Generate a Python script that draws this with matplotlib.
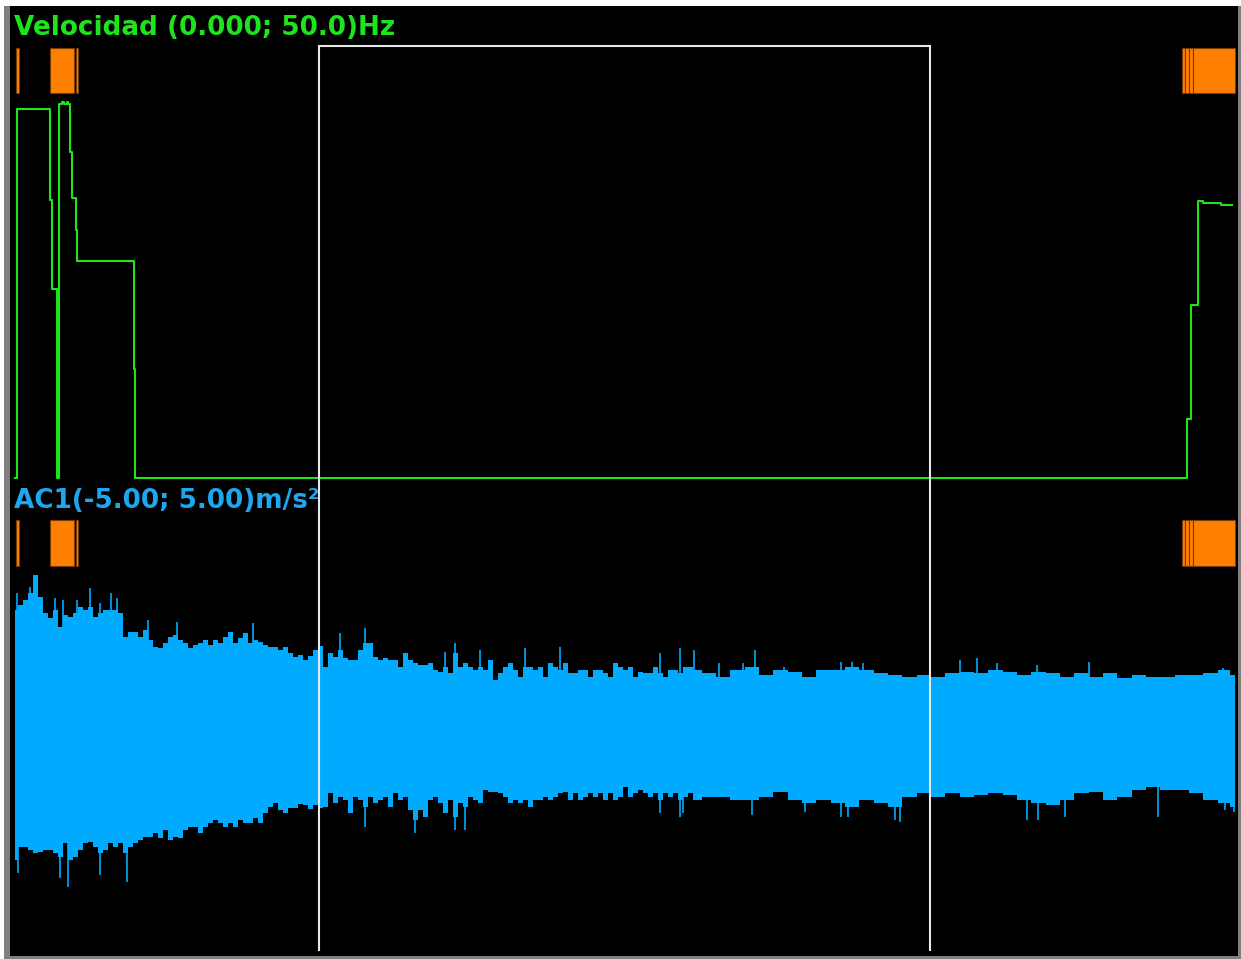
import numpy as np
import matplotlib
matplotlib.use("Agg")
import matplotlib.pyplot as plt
from matplotlib.patches import Rectangle

# ---------------- data ----------------
# Speed reference (Hz), step changes at the given times (s)
vel_t = [0, 1, 17.5, 18.5, 21, 22, 23.5, 24.5, 26, 26.5, 27.5, 28.5, 30.5, 31,
         59.5, 60, 586, 588, 591.5, 594, 603, 608.5]
vel_hz = [0, 48.6, 36.6, 24.9, 0, 49.2, 49.5, 49.2, 49.5, 49.2, 42.9, 36.8, 32.6, 28.6,
          14.3, 0, 7.8, 22.8, 36.4, 36.2, 35.9, 35.9]

# Event spans (s) shown on both channels
events = [(0.5, 2.0), (17.5, 29.5), (30.5, 31.5),
          (583.5, 585), (585, 587), (587, 589), (589, 610)]

# Cursor window (s)
cursor = (152, 457.5)

# AC1 vibration envelope (m/s^2)
t_env_a = np.arange(0, 340.1, 2.5)
t_env_b = [347, 354, 361, 368.5, 375.5, 382.5, 390, 397, 404, 411.5, 418.5, 425.5,
           433, 440, 447, 454.5, 461.5, 468.5, 476, 483, 490, 497.5, 504.5, 511.5,
           519, 526, 533, 540.5, 547.5, 554.5, 562, 569, 576, 583.5, 590.5, 597.5,
           605, 610]

upper_a = [3.00, 3.12, 3.25, 3.42, 3.88, 3.32, 2.92, 2.80, 3.00, 2.58,
           2.88, 2.82, 2.92, 3.08, 3.00, 3.08, 2.82, 2.92, 3.00, 3.00,
           3.00, 2.92, 2.32, 2.45, 2.45, 2.32, 2.50, 2.25, 2.08, 2.05,
           2.18, 2.32, 2.38, 2.25, 2.18, 2.05, 2.12, 2.18, 2.25, 2.12,
           2.25, 2.18, 2.32, 2.45, 2.18, 2.30, 2.42, 2.18, 2.25, 2.20,
           2.12, 2.08, 2.08, 2.00, 2.08, 1.92, 1.82, 1.88, 1.75, 1.85,
           2.00, 2.10, 1.58, 1.92, 1.82, 2.00, 1.80, 1.75, 1.75, 2.00,
           2.18, 2.18, 1.82, 1.75, 1.80, 1.75, 1.75, 1.58, 1.92, 1.75,
           1.68, 1.62, 1.62, 1.68, 1.50, 1.45, 1.58, 1.42, 1.92, 1.58,
           1.68, 1.58, 1.50, 1.58, 1.50, 1.75, 1.25, 1.42, 1.58, 1.68,
           1.50, 1.32, 1.58, 1.58, 1.50, 1.58, 1.32, 1.68, 1.58, 1.50,
           1.68, 1.42, 1.42, 1.50, 1.50, 1.32, 1.50, 1.50, 1.42, 1.32,
           1.68, 1.58, 1.50, 1.58, 1.32, 1.45, 1.42, 1.42, 1.58, 1.42,
           1.32, 1.50, 1.50, 1.42, 1.58, 1.58, 1.50]
lower_a = [-3.25, -2.92, -2.92, -3.00, -3.08, -3.05, -3.00, -3.00, -3.08, -3.18,
           -2.82, -3.25, -3.18, -3.00, -2.82, -2.80, -2.92, -3.08, -3.00, -2.82,
           -2.92, -2.82, -3.08, -2.92, -2.82, -2.75, -2.68, -2.68, -2.58, -2.70,
           -2.50, -2.75, -2.68, -2.70, -2.50, -2.42, -2.42, -2.58, -2.42, -2.32,
           -2.25, -2.32, -2.42, -2.32, -2.42, -2.25, -2.32, -2.32, -2.20, -2.32,
           -2.08, -1.92, -1.82, -2.00, -2.08, -1.95, -1.95, -1.85, -1.88, -1.98,
           -1.88, -1.95, -1.92, -1.58, -1.82, -1.68, -1.75, -2.08, -1.68, -1.75,
           -1.92, -1.68, -1.82, -1.75, -1.68, -1.92, -1.58, -1.75, -1.68, -2.00,
           -2.25, -2.00, -2.18, -1.75, -1.68, -1.82, -2.08, -1.75, -2.18, -1.82,
           -1.92, -1.68, -1.75, -1.82, -1.50, -1.55, -1.55, -1.58, -1.68, -1.82,
           -1.75, -1.82, -1.75, -1.92, -1.75, -1.75, -1.68, -1.75, -1.68, -1.58,
           -1.55, -1.75, -1.58, -1.75, -1.68, -1.58, -1.68, -1.58, -1.75, -1.58,
           -1.75, -1.68, -1.42, -1.68, -1.58, -1.50, -1.58, -1.68, -1.58, -1.75,
           -1.58, -1.68, -1.58, -1.75, -1.68, -1.58, -1.75]
upper_b = [1.42, 1.32, 1.50, 1.58, 1.38, 1.50, 1.45, 1.32, 1.50, 1.50,
           1.58, 1.50, 1.42, 1.38, 1.32, 1.38, 1.32, 1.42, 1.45, 1.42,
           1.50, 1.45, 1.38, 1.45, 1.42, 1.32, 1.42, 1.32, 1.42, 1.30,
           1.38, 1.32, 1.32, 1.38, 1.38, 1.42, 1.50, 1.38]
lower_b = [-1.68, -1.68, -1.75, -1.75, -1.68, -1.55, -1.75, -1.82, -1.75, -1.82,
           -1.92, -1.75, -1.82, -1.92, -1.68, -1.58, -1.68, -1.58, -1.68, -1.62,
           -1.58, -1.62, -1.75, -1.82, -1.88, -1.75, -1.58, -1.55, -1.75, -1.68,
           -1.50, -1.42, -1.50, -1.50, -1.58, -1.75, -1.82, -1.92]

# Isolated peaks of the AC1 signal
peak_up_t = [0.8, 7.5, 20, 24, 31, 37.5, 42.5, 48, 51, 66.5, 81, 119, 162.5, 175,
             215, 220, 232.5, 255, 272.5, 322.5, 332.5, 339.5, 352, 364, 370, 384.5,
             413, 418.5, 424, 472.5, 481, 491, 511, 537, 604]
peak_up_v = [3.42, 3.58, 3.30, 3.25, 3.25, 3.55, 3.17, 3.42, 3.29, 2.75, 2.71, 2.67,
             2.42, 2.55, 1.95, 2.18, 2.00, 2.05, 2.08, 1.92, 2.05, 2.00, 1.67, 1.67,
             2.00, 1.58, 1.71, 1.71, 1.67, 1.75, 1.79, 1.67, 1.63, 1.71, 1.54]
peak_dn_t = [1.7, 22.5, 26.7, 42.5, 55.8, 175, 200, 220, 225, 322.5, 332.5, 334,
             368.5, 395, 413, 416.5, 440, 442.5, 506, 511.5, 525, 571.5, 605, 609.5]
peak_dn_v = [-3.58, -3.71, -3.92, -3.63, -3.79, -2.42, -2.58, -2.50, -2.50, -2.08,
             -2.18, -2.08, -2.13, -2.04, -2.17, -2.17, -2.25, -2.29, -2.25, -2.25,
             -2.17, -2.17, -2.00, -2.04]

# ---------------- figure ----------------
W, H = 1241, 959
fig = plt.figure(figsize=(W / 100, H / 100), dpi=100, facecolor="white")


def fx(px):
    return px / W


def fy(py):
    return 1 - py / H


# window frame: grey border, black plotting area
fig.patches.append(Rectangle((fx(4), 0), fx(W) - fx(4), fy(6), transform=fig.transFigure,
                             facecolor="#7f7f7f", edgecolor="none", zorder=-20))
fig.patches.append(Rectangle((fx(10), fy(956)), fx(1238) - fx(10), fy(6) - fy(956),
                             transform=fig.transFigure, facecolor="black",
                             edgecolor="none", zorder=-10))

XL = (-2.5, 611.5)
GREEN = "#1ee41e"
BLUE = "#00aaff"
ORANGE = "#ff8000"
ORANGE_EDGE = "#7a3a00"

# speed channel
ax_v = fig.add_axes([fx(10), fy(482), fx(1238) - fx(10), fy(6) - fy(482)])
ax_v.set_xlim(*XL)
ax_v.set_ylim(-4 / 7.6, 472 / 7.6)
ax_v.axis("off")
ax_v.step(vel_t, vel_hz, where="post", color=GREEN, lw=1.5)

# acceleration channel
ax_a = fig.add_axes([fx(10), fy(956), fx(1238) - fx(10), fy(478) - fy(956)])
ax_a.set_xlim(*XL)
ax_a.set_ylim(-226 / 40, 252 / 40)
ax_a.axis("off")
t_env = np.concatenate([t_env_a, t_env_b])
up_env = np.concatenate([upper_a, upper_b])
lo_env = np.concatenate([lower_a, lower_b])
ax_a.fill_between(t_env, lo_env, up_env, step="mid", color=BLUE, lw=0)
ax_a.vlines(peak_up_t, 0, peak_up_v, color=BLUE, lw=1.2)
ax_a.vlines(peak_dn_t, peak_dn_v, 0, color=BLUE, lw=1.2)

# event markers on both channels
for ax, (y0, y1) in ((ax_v, (0.817, 0.912)), (ax_a, (0.816, 0.912))):
    for t0, t1 in events:
        ax.axvspan(t0, t1, ymin=y0, ymax=y1, facecolor=ORANGE,
                   edgecolor=ORANGE_EDGE, lw=0.8)

# cursor window
ax_c = fig.add_axes([fx(10), fy(956), fx(1238) - fx(10), fy(6) - fy(956)])
ax_c.set_xlim(*XL)
ax_c.set_ylim(956, 6)
ax_c.axis("off")
ax_c.plot([cursor[0], cursor[0], cursor[1], cursor[1]], [950, 46, 46, 950],
          color="#e8e8e8", lw=1.5, solid_joinstyle="miter")

# channel captions
fig.text(fx(14), fy(35), "Velocidad (0.000; 50.0)Hz", color=GREEN,
         fontsize=18.9, fontweight="bold", family=["DejaVu Sans"], va="baseline")
fig.text(fx(14), fy(508), "AC1(-5.00; 5.00)m/s²", color="#1ea6ee",
         fontsize=18.9, fontweight="bold", family=["DejaVu Sans"], va="baseline")

fig.savefig("out.png", dpi=100, facecolor=fig.get_facecolor())
